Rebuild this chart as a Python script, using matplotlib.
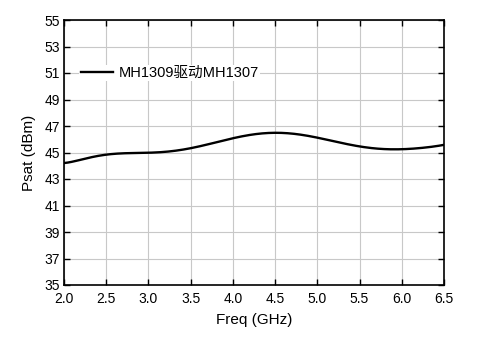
import numpy as np
import matplotlib
matplotlib.use('Agg')
import matplotlib.pyplot as plt

plt.rcParams['font.family'] = ['Liberation Sans', 'Noto Sans CJK SC', 'DejaVu Sans']

# data
freq = [2.0, 2.25, 2.5, 2.75, 3.0, 3.25, 3.5, 3.75, 4.0, 4.25, 4.5,
        4.75, 5.0, 5.25, 5.5, 5.75, 6.0, 6.25, 6.5]
psat = [44.2, 44.55, 44.82, 44.94, 45.0, 45.1, 45.3, 45.68, 46.08, 46.38, 46.48,
        46.4, 46.12, 45.76, 45.46, 45.28, 45.25, 45.35, 45.58]
label = 'MH1309驱动MH1307'
xticks = [2.0, 2.5, 3.0, 3.5, 4.0, 4.5, 5.0, 5.5, 6.0, 6.5]
yticks = list(range(35, 56, 2))

# smooth curve through the read points
xs = np.linspace(freq[0], freq[-1], 300)
coef = np.polyfit(freq, psat, 8)
ys = np.polyval(coef, xs)

fig = plt.figure(figsize=(4.79, 3.39), dpi=100)
ax = fig.add_axes([64 / 479, 1 - 285 / 339, 380 / 479, 265 / 339])
ax.plot(xs, ys, color='black', lw=1.7, label=label)

ax.set_xlim(2.0, 6.5)
ax.set_ylim(35, 55)
ax.set_xticks(xticks)
ax.set_xticklabels(['%.1f' % v for v in xticks])
ax.set_yticks(yticks)
ax.grid(True, color='#c8c8c8', lw=0.8)
ax.tick_params(direction='in', top=True, right=True, length=4, width=1,
               labelsize=10, pad=3)
ax.tick_params(axis='x', pad=5)
for s in ax.spines.values():
    s.set_linewidth(1.2)
ax.set_xlabel('Freq (GHz)', fontsize=11, labelpad=5)
ax.set_ylabel('Psat (dBm)', fontsize=11, labelpad=6)

leg = ax.legend(loc='center left', bbox_to_anchor=(0.04, 0.8), fontsize=10.5,
                frameon=True, handlelength=2.2, handletextpad=0.4,
                borderpad=0.1, borderaxespad=0)
leg.get_frame().set_edgecolor('none')
leg.get_frame().set_facecolor('white')
leg.get_frame().set_alpha(1)

fig.savefig('out.png', dpi=100)
